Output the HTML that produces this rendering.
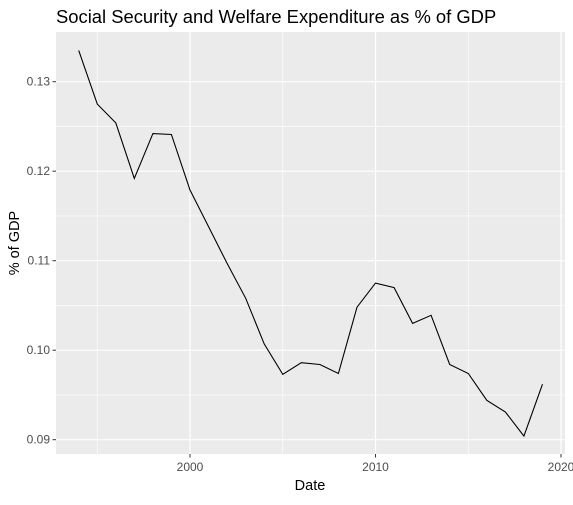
<!DOCTYPE html>
<html><head><meta charset="utf-8"><style>
body{margin:0;background:#fff;font-family:"Liberation Sans",Arial,sans-serif}
</style></head><body>
<svg id="chart" width="573" height="500" xmlns="http://www.w3.org/2000/svg">
<text x="56" y="23" font-size="18.4" fill="#000">Social Security and Welfare Expenditure as % of GDP</text>
<rect x="56" y="32" width="509" height="422" fill="#EBEBEB"/>
<g id="grid"></g>
<g id="axes"></g>
<path id="line" fill="none" stroke="#000" stroke-width="1.1"/>
<text x="310" y="490" font-size="14.5" text-anchor="middle">Date</text>
<text transform="translate(19,243) rotate(-90)" font-size="14.5" text-anchor="middle">% of GDP</text>
</svg>
<script>
const years=[1994,1995,1996,1997,1998,1999,2000,2001,2002,2003,2004,2005,2006,2007,2008,2009,2010,2011,2012,2013,2014,2015,2016,2017,2018,2019];
const values=[0.1335,0.1275,0.1254,0.1192,0.1242,0.1241,0.1179,0.1138,0.1097,0.1058,0.1007,0.0973,0.0986,0.0984,0.0974,0.1048,0.1075,0.1070,0.1030,0.1039,0.0984,0.0974,0.0944,0.0931,0.0904,0.0962];
const xTicks=[2000,2010,2020];
const yTicks=[0.09,0.10,0.11,0.12,0.13];
const X=v=>190+(v-2000)*18.55;
const Y=v=>81.7+(0.13-v)*8950;
const NS="http://www.w3.org/2000/svg";
const grid=document.getElementById('grid'),axes=document.getElementById('axes');
function mk(tag,attrs,parent){const e=document.createElementNS(NS,tag);for(const k in attrs)e.setAttribute(k,attrs[k]);parent.appendChild(e);return e;}
for(let i=0;i<yTicks.length-1;i++){const m=(yTicks[i]+yTicks[i+1])/2;
 const l=mk('line',{x1:56,x2:565,y1:Y(m),y2:Y(m),stroke:'#fff','stroke-width':0.6},grid);
 
 }
for(let i=0;i<xTicks.length;i++){const m=xTicks[i]-5;
 const l=mk('line',{x1:X(m),x2:X(m),y1:32,y2:454,stroke:'#fff','stroke-width':0.6},grid);
 
 }
yTicks.forEach(t=>{const y=Y(t);
 const l=mk('line',{x1:56,x2:565,y1:y,y2:y,stroke:'#fff','stroke-width':1.2},grid);
 
 
 mk('line',{x1:52.5,x2:56,y1:y,y2:y,stroke:'#333','stroke-width':1},axes);
 const tx=mk('text',{x:50,y:y+4,'font-size':12,fill:'#4D4D4D','text-anchor':'end'},axes);
 tx.textContent=t.toFixed(2);
 
 });
xTicks.forEach(t=>{const x=X(t);
 const l=mk('line',{x1:x,x2:x,y1:32,y2:454,stroke:'#fff','stroke-width':1.2},grid);
 
 
 mk('line',{x1:x,x2:x,y1:454,y2:457.5,stroke:'#333','stroke-width':1},axes);
 const tx=mk('text',{x:x,y:471,'font-size':12,fill:'#4D4D4D','text-anchor':'middle'},axes);
 tx.textContent=t;
 
 });
document.getElementById('line').setAttribute('d',years.map((yr,i)=>(i?'L':'M')+X(yr).toFixed(1)+','+Y(values[i]).toFixed(1)).join(''));
</script>
</body></html>
